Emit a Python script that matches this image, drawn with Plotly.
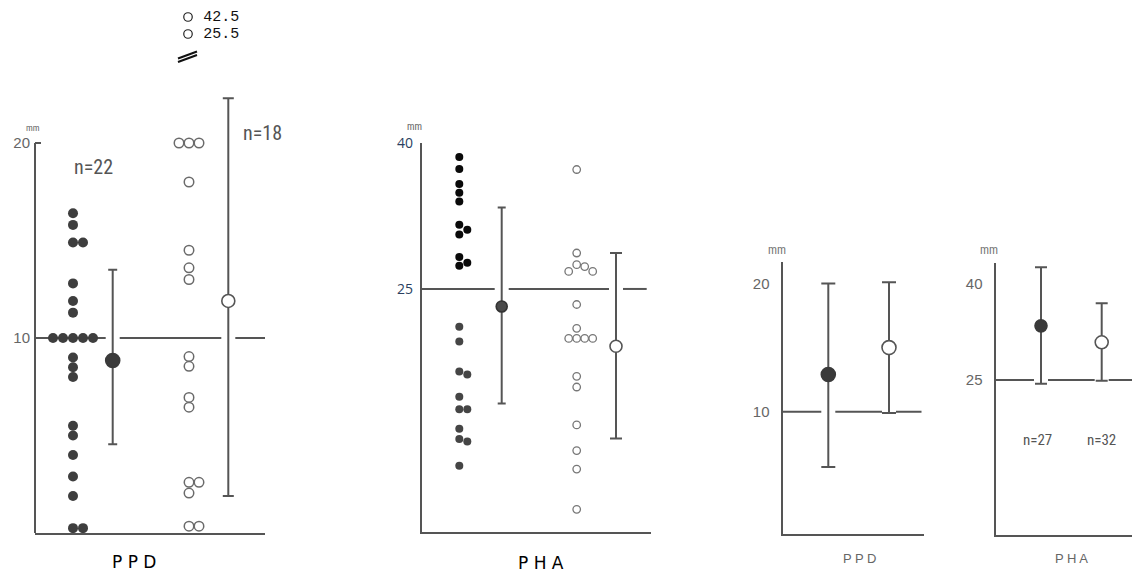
import plotly.graph_objects as go

W, H = 1132, 572

# ---------------- data (mm) ----------------
# Left block: individual values
ppd_filled = [16.4, 15.8, 14.9, 14.9, 12.8, 11.9, 11.3, 10.0, 10.0, 10.0, 10.0, 10.0,
              9.0, 8.5, 8.0, 5.5, 5.0, 4.0, 2.9, 1.9, 0.25, 0.25]
ppd_open = [20.0, 20.0, 20.0, 18.0, 14.5, 13.6, 13.0, 9.05, 8.55, 6.95, 6.45,
            2.6, 2.6, 2.05, 0.35, 0.35]
ppd_off_scale = [42.5, 25.5]
ppd_mean = [8.85, 11.9]
ppd_sd_plus = [4.65, 10.4]
ppd_sd_minus = [4.3, 10.0]
ppd_n = [22, 18]

pha_filled = [38.6, 37.35, 35.8, 34.9, 34.0, 31.6, 31.1, 30.6, 28.3, 27.7, 27.4,
              21.1, 19.6, 16.5, 16.2, 13.9, 12.6, 12.6, 10.6, 9.55, 9.3, 6.8]
pha_open = [37.3, 28.7, 27.5, 27.3, 26.8, 26.8, 23.4, 20.95, 19.9, 19.9, 19.9, 19.9,
            16.0, 14.9, 11.0, 8.35, 6.45, 2.3]
pha_mean = [23.2, 19.1]
pha_sd_plus = [10.2, 9.6]
pha_sd_minus = [10.0, 9.5]

# Right block: summary (mean +/- SD)
ppd2_mean = [12.9, 15.0]
ppd2_sd_plus = [7.1, 5.1]
ppd2_sd_minus = [7.2, 5.1]
pha2_mean = [33.4, 30.85]
pha2_sd_plus = [9.1, 6.05]
pha2_sd_minus = [9.0, 5.95]
pha2_n = [27, 32]

ppd_threshold = 10
pha_threshold = 25
ppd_ticks = [10, 20]
pha_ticks = [25, 40]
labels = ["P P D", "P H A"]

# ---------------- layout helpers ----------------
GRAY = "#555555"
TXT = "#666666"


def px(x):
    return x / W


def py(y):
    return 1 - y / H


def swarm(values, ppu, diam):
    placed, out = [], []
    cands = [0.0]
    for i in range(1, 8):
        cands += [i * diam, -i * diam]
    for v in values:
        yy = v * ppu
        for dx in cands:
            if all((dx - a) ** 2 + (yy - b) ** 2 >= (0.92 * diam) ** 2 for a, b in placed):
                break
        placed.append((dx, yy))
        out.append(dx)
    return out


# panel geometry: left px, right px, bottom px, value at bottom, px per unit, top value
panels = {
    1: dict(x0=35, x1=265, yb=533, vb=0.0, ppu=19.5, vt=23.0),
    2: dict(x0=421.7, x1=651, yb=531.7, vb=0.0, ppu=9.71, vt=40.0),
    3: dict(x0=782.5, x1=924, yb=534, vb=0.47, ppu=12.83, vt=21.66),
    4: dict(x0=995.5, x1=1132, yb=535, vb=0.95, ppu=6.445, vt=43.15),
}

fig = go.Figure()
layout = {}
for k, p in panels.items():
    s = "" if k == 1 else str(k)
    ytop = p["yb"] - (p["vt"] - p["vb"]) * p["ppu"]
    layout["xaxis" + s] = dict(domain=[px(p["x0"]), px(p["x1"])], range=[0, p["x1"] - p["x0"]],
                               anchor="y" + s, showgrid=False, zeroline=False,
                               showticklabels=False, ticks="", showline=True,
                               linecolor=GRAY, linewidth=2, fixedrange=True)
    layout["yaxis" + s] = dict(domain=[py(p["yb"]), py(ytop)], range=[p["vb"], p["vt"]],
                               anchor="x" + s, showgrid=False, zeroline=False,
                               showline=(k != 1), linecolor=GRAY, linewidth=2,
                               tickfont=dict(family="Liberation Sans, Arial, sans-serif",
                                             size=15, color=TXT),
                               fixedrange=True)

# overlay axes for the two off-scale values printed above panel 1
layout["xaxis5"] = dict(domain=[px(183), px(262)], range=[0, 79], anchor="y5", visible=False,
                        fixedrange=True)
layout["yaxis5"] = dict(domain=[py(42.5), py(8.5)], type="category",
                        categoryorder="array",
                        categoryarray=[str(v) for v in sorted(ppd_off_scale)],
                        range=[-0.5, len(ppd_off_scale) - 0.5], anchor="x5", visible=False,
                        fixedrange=True)


def ref_line(xa, ya, thr, end, means, gap=7):
    xs, ys = [0], [thr]
    for m in means:
        xs += [m - gap, None, m + gap]
        ys += [thr, None, thr]
    xs.append(end)
    ys.append(thr)
    fig.add_trace(go.Scatter(x=xs, y=ys, mode="lines", xaxis=xa, yaxis=ya,
                             line=dict(color=GRAY, width=2), hoverinfo="skip",
                             showlegend=False))


def means_trace(xa, ya, xs, m, sp, sm, sizes, caps, fills, lines):
    for i in range(2):
        fig.add_trace(go.Scatter(
            x=[xs[i]], y=[m[i]], mode="markers", xaxis=xa, yaxis=ya, showlegend=False,
            error_y=dict(type="data", symmetric=False, array=[sp[i]], arrayminus=[sm[i]],
                         color=GRAY, thickness=2, width=caps[i]),
            marker=dict(size=sizes[i], color=fills[i], line=dict(color=lines[i], width=1.6))))


# ---------- panel 1: PPD individual ----------
c1 = dict(f=38, mf=77.7, o=154, mo=193.3)
ref_line("x", "y", ppd_threshold, 230, [c1["mf"], c1["mo"]])
dxf = swarm(ppd_filled, panels[1]["ppu"], 10)
fig.add_trace(go.Scatter(x=[c1["f"] + d for d in dxf], y=ppd_filled, mode="markers",
                         xaxis="x", yaxis="y", showlegend=False,
                         marker=dict(size=10, color="#3e3e3e", line=dict(width=0))))
dxo = swarm(ppd_open, panels[1]["ppu"], 10)
fig.add_trace(go.Scatter(x=[c1["o"] + d for d in dxo], y=ppd_open, mode="markers",
                         xaxis="x", yaxis="y", showlegend=False,
                         marker=dict(size=9.5, color="white", line=dict(color="#6a6a6a", width=1.5))))
means_trace("x", "y", [c1["mf"], c1["mo"]], ppd_mean, ppd_sd_plus, ppd_sd_minus,
            [14, 13], [4.5, 5.5], ["#3a3a3a", "white"], ["#3a3a3a", GRAY])
layout["yaxis"].update(tickvals=ppd_ticks, ticks="inside", ticklen=6, tickwidth=2,
                       tickcolor=GRAY, ticklabelstandoff=4)

# off-scale values (open circles with their values)
fig.add_trace(go.Scatter(x=[5] * len(ppd_off_scale), y=[str(v) for v in ppd_off_scale],
                         xaxis="x5", yaxis="y5", mode="markers+text", showlegend=False,
                         text=["\u00a0" + str(v) for v in ppd_off_scale],
                         textposition="middle right",
                         textfont=dict(family="Liberation Mono, DejaVu Sans Mono, monospace",
                                       size=15, color="#111111"),
                         marker=dict(symbol="circle-open", size=8.5, color="#222222",
                                     line=dict(color="#222222", width=1.2)),
                         cliponaxis=False))

# ---------- panel 2: PHA individual ----------
c2 = dict(f=37.6, mf=80, o=155, mo=194.3)
ref_line("x2", "y2", pha_threshold, 225, [c2["mf"], c2["mo"]])
dxf2 = swarm(pha_filled, panels[2]["ppu"], 8)
fig.add_trace(go.Scatter(x=[c2["f"] + d for d in dxf2], y=pha_filled, mode="markers",
                         xaxis="x2", yaxis="y2", showlegend=False,
                         marker=dict(size=8, color=["#0a0a0a" if v > pha_threshold else "#454545"
                                                    for v in pha_filled], line=dict(width=0))))
dxo2 = swarm(pha_open, panels[2]["ppu"], 8)
fig.add_trace(go.Scatter(x=[c2["o"] + d for d in dxo2], y=pha_open, mode="markers",
                         xaxis="x2", yaxis="y2", showlegend=False,
                         marker=dict(size=7.5, color="white", line=dict(color="#777777", width=1.3))))
means_trace("x2", "y2", [c2["mf"], c2["mo"]], pha_mean, pha_sd_plus, pha_sd_minus,
            [11, 12], [4, 6], ["#4a4a4a", "white"], ["#333333", GRAY])
layout["yaxis2"].update(tickvals=pha_ticks, ticks="inside", ticklen=6, tickwidth=2,
                        tickcolor=GRAY, ticklabelstandoff=4, tickfont=dict(size=14))

# ---------- panel 3: PPD summary ----------
ref_line("x3", "y3", ppd_threshold, 139, [45.8, 106.5])
means_trace("x3", "y3", [45.8, 106.5], ppd2_mean, ppd2_sd_plus, ppd2_sd_minus,
            [14, 14], [7, 7], ["#3a3a3a", "white"], ["#3a3a3a", GRAY])
layout["yaxis3"].update(tickvals=ppd_ticks, ticks="", ticklabelstandoff=8)

# ---------- panel 4: PHA summary ----------
ref_line("x4", "y4", pha_threshold, 136.5, [45.5, 106.2])
means_trace("x4", "y4", [45.5, 106.2], pha2_mean, pha2_sd_plus, pha2_sd_minus,
            [12, 13], [6, 6], ["#3a3a3a", "white"], ["#3a3a3a", GRAY])
layout["yaxis4"].update(tickvals=pha_ticks, ticks="", ticklabelstandoff=8)

# ---------------- annotations ----------------
ann = []
NARROW = "Liberation Sans Narrow, Arial Narrow, Roboto Condensed, DejaVu Sans Condensed, sans-serif"


def note(x, y, text, size, color=TXT, family=NARROW, xanchor="center", weight="normal"):
    ann.append(dict(x=px(x), y=py(y), xref="paper", yref="paper", text=text, showarrow=False,
                    xanchor=xanchor, yanchor="middle",
                    font=dict(size=size, color=color, family=family, weight=weight)))


note(93, 167, f"n={ppd_n[0]}", 20, "#555555")
note(262, 133, f"n={ppd_n[1]}", 20, "#555555")
note(1037, 440, f"n={pha2_n[0]}", 15, "#555555")
note(1101, 440, f"n={pha2_n[1]}", 15, "#555555")
note(33, 128, "mm", 9, "#666666")
note(414, 126, "mm", 10, "#666666")
note(777, 250, "mm", 12, "#777777")
note(989, 250, "mm", 12, "#777777")
note(134, 562, labels[0], 17, "#000000", "DejaVu Sans, sans-serif")
note(541, 563, labels[1], 17, "#000000", "DejaVu Sans, sans-serif")
note(859, 558, labels[0], 13, "#666666", "Liberation Sans, sans-serif")
note(1071, 558, labels[1], 13, "#666666", "Liberation Sans, sans-serif")

shapes = [
    # y axis line of panel 1 (drawn 0 to 20 only)
    dict(type="line", xref="x domain", x0=0, x1=0, yref="y", y0=0, y1=ppd_ticks[-1],
         line=dict(color=GRAY, width=2)),
    # axis-break mark under the off-scale values
    dict(type="line", xref="paper", yref="paper", x0=px(178), x1=px(197), y0=py(62), y1=py(55),
         line=dict(color="#111111", width=2)),
    dict(type="line", xref="paper", yref="paper", x0=px(178), x1=px(197), y0=py(58.5), y1=py(51.5),
         line=dict(color="#111111", width=2)),
]

fig.update_layout(width=W, height=H,
                  margin=dict(l=0, r=0, t=0, b=0, pad=0, autoexpand=False),
                  paper_bgcolor="white", plot_bgcolor="white", showlegend=False,
                  annotations=ann, shapes=shapes, **layout)

fig.write_html("out.html", config={"displayModeBar": False},
               post_script="document.body.style.margin='0px';"
                           "document.body.style.overflow='hidden';")
